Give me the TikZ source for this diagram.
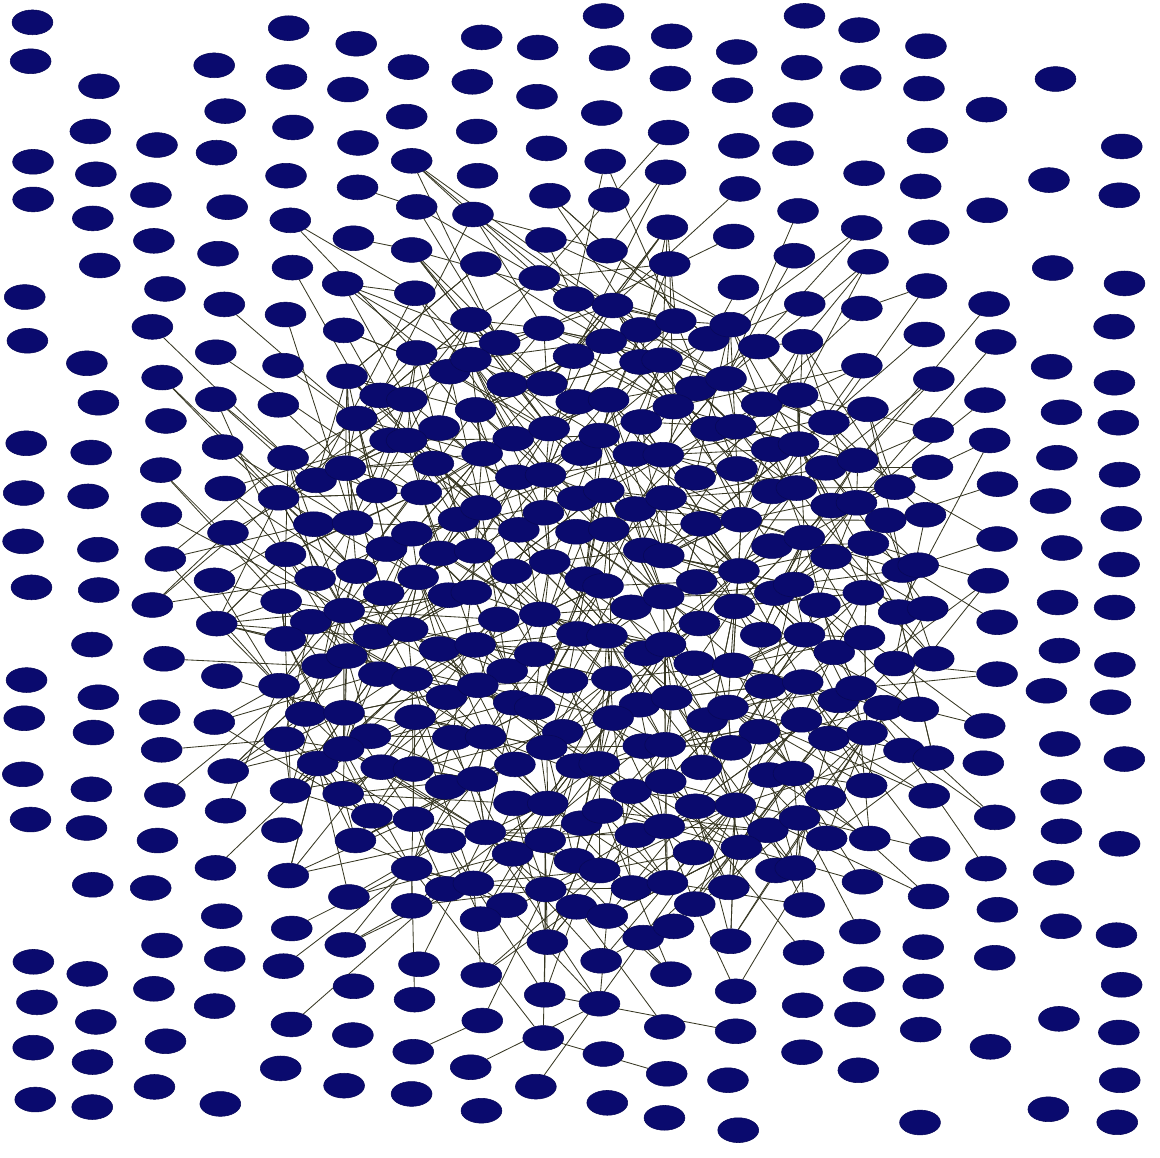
\documentclass[tikz,border=0pt]{standalone}
\usepackage{tikz}
\usetikzlibrary{shapes.geometric, backgrounds}
\definecolor{vtxblue}{RGB}{10,10,110}
\definecolor{linkgray}{RGB}{55,55,35}
\tikzstyle{vtx} = [ellipse, fill=vtxblue, draw=vtxblue!80!black, line width=0.4pt, minimum width=1.02cm, minimum height=0.62cm, inner sep=0pt]
\tikzstyle{link} = [draw=linkgray, line width=0.6pt]

\begin{document}
\begin{tikzpicture}[x=0.025cm, y=-0.025cm]
  \useasboundingbox (0,0) rectangle (1160,1158);
  \pgfmathsetseed{4242}
  \foreach \i in {0,...,17}{
    \foreach \j in {0,...,23}{
      \pgfmathsetmacro\px{30+\i*64+8*rand}
      \pgfmathsetmacro\py{18+\j*47+mod(\i,3)*15+7*rand}
      \pgfmathsetmacro\dd{veclen(30+\i*64-575,18+\j*47+mod(\i,3)*15-600)}
      \pgfmathtruncatemacro\show{(\dd<530)+(rnd>0.3)}
      \ifnum\show>0
        \node[vtx] (a-\i-\j) at (\px,\py) {};
      \fi
      \pgfmathtruncatemacro\inn{\dd<330}
      \ifnum\inn=1
        \node[vtx] (b-\i-\j) at (\px+32+6*rand,\py+23+6*rand) {};
      \fi
    }
  }

  \begin{pgfonlayer}{background}
  \foreach \i in {0,...,17}{
    \foreach \j in {0,...,23}{
      \pgfmathsetmacro\cx{30+\i*64}
      \pgfmathsetmacro\cy{18+\j*47+mod(\i,3)*15}
      \pgfmathsetmacro\dd{veclen(\cx-575,\cy-600)}
      \pgfmathtruncatemacro\inn{\dd<330}
      \pgfmathtruncatemacro\rim{(\dd>=330)*(\dd<480)}
      \ifnum\inn=1
        \foreach \k in {1,...,5}{
          \pgfmathrandominteger\di{-2}{2}
          \pgfmathrandominteger\dj{-3}{3}
          \pgfmathtruncatemacro\ti{\i+\di}
          \pgfmathtruncatemacro\tj{\j+\dj+(\di==0)*(\dj==0)}
          \draw[link] (a-\i-\j) -- (a-\ti-\tj);
        }
        \foreach \k in {1,...,4}{
          \pgfmathrandominteger\di{-2}{2}
          \pgfmathrandominteger\dj{-3}{3}
          \pgfmathtruncatemacro\ti{\i+\di}
          \pgfmathtruncatemacro\tj{\j+\dj}
          \draw[link] (b-\i-\j) -- (a-\ti-\tj);
        }
      \fi
      \ifnum\rim=1
        \pgfmathtruncatemacro\hit{rnd<0.5}
        \ifnum\hit=1
          \pgfmathtruncatemacro\ti{\i+(\cx<575 ? 1 : -1)*random(1,3)}
          \pgfmathtruncatemacro\tj{\j+(\cy<600 ? 1 : -1)*random(1,4)}
          \draw[link] (a-\i-\j) -- (a-\ti-\tj);
        \fi
      \fi
    }
  }
  \end{pgfonlayer}
\end{tikzpicture}
\end{document}
